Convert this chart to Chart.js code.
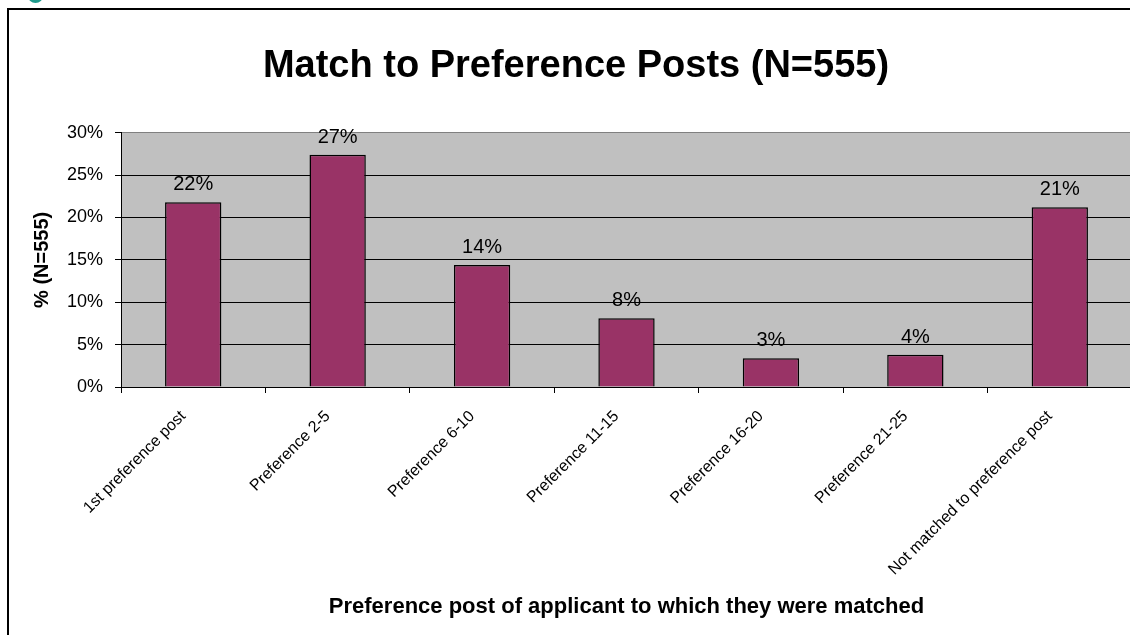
<!DOCTYPE html>
<html>
<head>
<meta charset="utf-8">
<script src="https://cdn.jsdelivr.net/npm/chart.js@4/dist/chart.umd.min.js"></script>
<style>
  html, body { margin: 0; padding: 0; background: #fff; overflow: hidden; }
  #frame { position: absolute; left: 7px; top: 8px; width: 1300px; height: 800px;
           border-left: 2px solid #000; border-top: 2px solid #000; }
  #blob { position: absolute; left: 28px; top: -11px; width: 15px; height: 14px;
          border-radius: 50%; background: #1f9a8c; }
  #wrap { position: absolute; left: 0; top: 0; width: 1150px; height: 635px; }
</style>
</head>
<body>
<div id="blob"></div>
<div id="frame"></div>
<div id="wrap"><canvas id="chart"></canvas></div>
<script>
const categories = ['1st preference post', 'Preference 2-5', 'Preference 6-10', 'Preference 11-15',
  'Preference 16-20', 'Preference 21-25', 'Not matched to preference post'];
const percentMatched = [21.8, 27.4, 14.4, 8.1, 3.4, 3.8, 21.2];
const yTicks = [0, 5, 10, 15, 20, 25, 30];

const arial = '"Liberation Sans", Arial, sans-serif';

// grey plot background like the old excel charts
const plotBg = {
  id: 'plotBg',
  beforeDraw(chart) {
    const { ctx, chartArea } = chart;
    ctx.save();
    ctx.fillStyle = '#c0c0c0';
    ctx.fillRect(chartArea.left, chartArea.top, chartArea.right - chartArea.left, chartArea.bottom - chartArea.top);
    ctx.restore();
  }
};

// value labels above the bars
const barLabels = {
  id: 'barLabels',
  afterDatasetsDraw(chart) {
    const { ctx } = chart;
    const meta = chart.getDatasetMeta(0);
    ctx.save();
    ctx.font = '20px ' + arial;
    ctx.fillStyle = '#000';
    ctx.textAlign = 'center';
    ctx.textBaseline = 'alphabetic';
    meta.data.forEach((bar, i) => {
      ctx.fillText(Math.round(percentMatched[i]) + '%', bar.x, bar.y - 12);
    });
    ctx.restore();
  }
};

const ctx = document.getElementById('chart').getContext('2d');

new Chart(ctx, {
  type: 'bar',
  data: {
    labels: categories,
    datasets: [{
      data: percentMatched,
      backgroundColor: '#993366',
      borderColor: '#000',
      borderWidth: 1.5,
      barPercentage: 0.39,
      categoryPercentage: 1
    }]
  },
  options: {
    responsive: true,
    maintainAspectRatio: false,
    animation: false,
    layout: { padding: { left: 20, right: 18, top: 0, bottom: 0 } },
    plugins: {
      legend: { display: false },
      tooltip: { enabled: false },
      title: {
        display: true,
        text: 'Match to Preference Posts (N=555)',
        color: '#000',
        font: { family: arial, size: 38, weight: 'bold', lineHeight: 1.2 },
        padding: { top: 44, bottom: 43 }
      }
    },
    scales: {
      x: {
        grid: { display: true, drawOnChartArea: false, color: '#000', tickLength: 6, offset: true },
        border: { color: '#000', width: 1 },
        ticks: {
          color: '#000',
          font: { family: arial, size: 16 },
          minRotation: 45,
          maxRotation: 45,
          autoSkip: false,
          padding: 14,
          labelOffset: -10
        },
        title: {
          display: true,
          text: 'Preference post of applicant to which they were matched',
          color: '#000',
          font: { family: arial, size: 22, weight: 'bold', lineHeight: 1.2 },
          padding: { top: 0, bottom: 15 }
        },
        afterFit(scale) { scale.height = 248; }
      },
      y: {
        min: 0,
        max: 30,
        afterBuildTicks(scale) { scale.ticks = yTicks.map(v => ({ value: v })); },
        grid: {
          color: c => (c.tick && c.tick.value === 30 ? '#808080' : '#000'),
          tickColor: '#000',
          tickLength: 6,
          lineWidth: 1
        },
        border: { color: '#000', width: 1 },
        ticks: {
          color: '#000',
          font: { family: arial, size: 18 },
          padding: 12,
          callback: v => v + '%'
        },
        title: {
          display: true,
          text: '% (N=555)',
          color: '#000',
          font: { family: arial, size: 20, weight: 'bold', lineHeight: 1.2 },
          padding: { top: 10, bottom: 0 }
        },
        afterFit(scale) { scale.width = 101; }
      }
    }
  },
  plugins: [plotBg, barLabels]
});
</script>
</body>
</html>
